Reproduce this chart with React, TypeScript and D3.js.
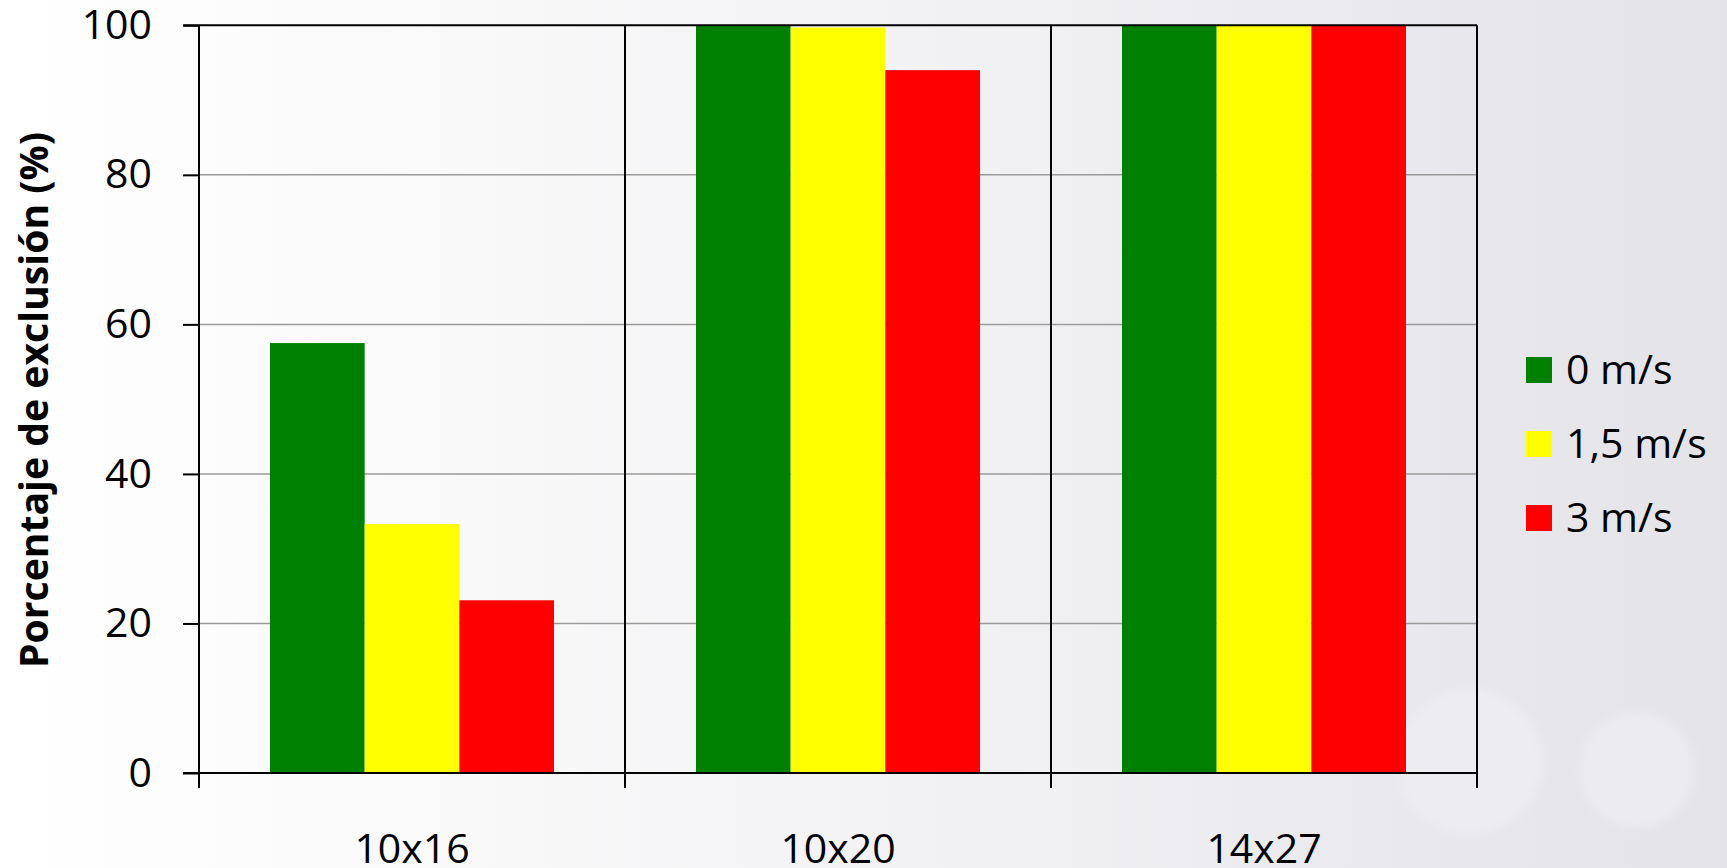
import React, { useRef, useEffect } from 'react';
import * as d3 from 'd3';

const categories = ['10x16', '10x20', '14x27'];
const series = ['0 m/s', '1,5 m/s', '3 m/s'];
const seriesColors = ['#008000', '#ffff00', '#ff0000'];
const values0 = [57.5, 100, 100];
const values15 = [33.3, 99.7, 100];
const values3 = [23.1, 94, 100];
const yTicks = [0, 20, 40, 60, 80, 100];

const W = 1727;
const H = 868;

function App() {
  const svgRef = useRef<SVGSVGElement>(null);

  useEffect(() => {
    document.body.style.margin = '0';
    document.body.style.overflow = 'hidden';

    const svg = d3.select(svgRef.current);
    svg.selectAll('*').remove();

    const left = 199, right = 1477, top = 25.3, bottom = 773;
    const font = '"Open Sans", sans-serif';

    // slide background
    const defs = svg.append('defs');
    const bg = defs.append('linearGradient').attr('id', 'bg')
      .attr('x1', 0).attr('y1', 0).attr('x2', 1).attr('y2', 0);
    bg.append('stop').attr('offset', '0%').attr('stop-color', '#ffffff');
    bg.append('stop').attr('offset', '30%').attr('stop-color', '#f8f8f9');
    bg.append('stop').attr('offset', '60%').attr('stop-color', '#f0f0f3');
    bg.append('stop').attr('offset', '100%').attr('stop-color', '#e3e3e8');
    defs.append('filter').attr('id', 'soft')
      .append('feGaussianBlur').attr('stdDeviation', 4);

    svg.append('rect').attr('width', W).attr('height', H).attr('fill', 'url(#bg)');
    svg.append('circle').attr('cx', 1470).attr('cy', 762).attr('r', 72)
      .attr('fill', '#ededf1').attr('filter', 'url(#soft)');
    svg.append('circle').attr('cx', 1637).attr('cy', 770).attr('r', 58)
      .attr('fill', '#ebebef').attr('filter', 'url(#soft)');

    const data = [values0, values15, values3];

    const x = d3.scaleBand().domain(categories).range([left, right]).padding(0);
    const xs = d3.scaleBand().domain(series).range([0, x.bandwidth()])
      .paddingInner(0).paddingOuter(0.75);
    const y = d3.scaleLinear().domain([0, 100]).range([bottom, top]);

    // gridlines
    svg.append('g').selectAll('line')
      .data(yTicks.filter(t => t > 0 && t < 100))
      .enter().append('line')
      .attr('x1', left).attr('x2', right)
      .attr('y1', d => y(d)).attr('y2', d => y(d))
      .attr('stroke', '#9a9a9a').attr('stroke-width', 1.5);

    // bars
    series.forEach((s, si) => {
      svg.append('g').selectAll('rect')
        .data(categories)
        .enter().append('rect')
        .attr('x', c => (x(c) as number) + (xs(s) as number))
        .attr('y', (c, ci) => y(data[si][ci]))
        .attr('width', xs.bandwidth())
        .attr('height', (c, ci) => bottom - y(data[si][ci]))
        .attr('fill', seriesColors[si]);
    });

    // y axis
    const yAxis = svg.append('g')
      .attr('transform', `translate(${left},0)`)
      .call(d3.axisLeft(y).tickValues(yTicks).tickSize(16).tickPadding(31));
    yAxis.select('.domain').remove();
    yAxis.selectAll('line').attr('stroke', '#000').attr('stroke-width', 2);
    yAxis.selectAll('text')
      .attr('font-family', font).attr('font-size', 41).attr('fill', '#000');

    // frame + category dividers
    const bounds = [left, ...categories.map(c => (x(c) as number) + x.bandwidth())];
    svg.append('g').selectAll('line')
      .data(bounds)
      .enter().append('line')
      .attr('x1', d => d).attr('x2', d => d)
      .attr('y1', top).attr('y2', bottom + 15)
      .attr('stroke', '#000').attr('stroke-width', 2);
    svg.append('line').attr('x1', left - 16).attr('x2', right)
      .attr('y1', top).attr('y2', top).attr('stroke', '#000').attr('stroke-width', 2);
    svg.append('line').attr('x1', left - 16).attr('x2', right)
      .attr('y1', bottom).attr('y2', bottom).attr('stroke', '#000').attr('stroke-width', 2);

    // x labels
    svg.append('g').selectAll('text')
      .data(categories)
      .enter().append('text')
      .attr('x', c => (x(c) as number) + x.bandwidth() / 2)
      .attr('y', 863)
      .attr('text-anchor', 'middle')
      .attr('font-family', font).attr('font-size', 41)
      .text(c => c);

    // y title
    svg.append('text')
      .attr('transform', 'translate(48,400) rotate(-90)')
      .attr('text-anchor', 'middle')
      .attr('font-family', font).attr('font-weight', 'bold').attr('font-size', 40)
      .attr('textLength', 536).attr('lengthAdjust', 'spacingAndGlyphs')
      .text('Porcentaje de exclusión (%)');

    // legend
    const legend = svg.append('g').attr('transform', 'translate(1526,357)');
    series.forEach((s, i) => {
      const row = legend.append('g').attr('transform', `translate(0,${i * 74})`);
      row.append('rect').attr('width', 26).attr('height', 26).attr('fill', seriesColors[i]);
      row.append('text').attr('x', 40).attr('y', 27)
        .attr('font-family', font).attr('font-size', 41)
        .text(s);
    });
  }, []);

  return <svg ref={svgRef} width={W} height={H} style={{ display: 'block' }}></svg>;
}

export default App;
